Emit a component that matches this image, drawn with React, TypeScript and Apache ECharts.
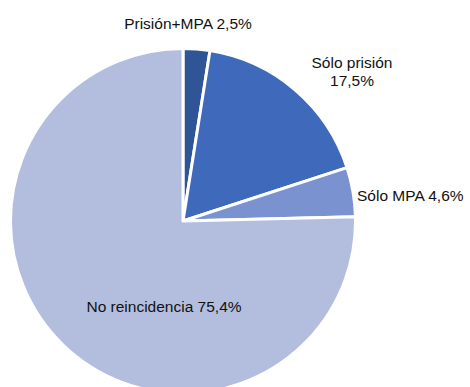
import React, { useEffect, useRef } from "react";
import * as echarts from "echarts";

const categories = ["Prisión+MPA", "Sólo prisión", "Sólo MPA", "No reincidencia"];
const values = [2.5, 17.5, 4.6, 75.4];
const colors = ["#2F5597", "#3F69BA", "#7A92CF", "#B3BEDF"];

const labelPos: Record<number, { x: number; y: number; align: string }> = {
  0: { x: 188, y: 23, align: "center" },
  1: { x: 352, y: 71, align: "center" },
  2: { x: 357, y: 195, align: "left" },
  3: { x: 164, y: 306, align: "center" },
};

export default function App() {
  const ref = useRef<HTMLDivElement>(null);
  useEffect(() => {
    if (!ref.current) return;
    const chart = echarts.init(ref.current, null, { renderer: "svg" });
    chart.setOption({
      animation: false,
      backgroundColor: "#ffffff",
      series: [
        {
          type: "pie",
          center: [183, 221],
          radius: 172.5,
          startAngle: 90,
          clockwise: true,
          avoidLabelOverlap: false,
          data: categories.map((c, i) => ({
            name: c,
            value: values[i],
            itemStyle: { color: colors[i] },
          })),
          itemStyle: { borderColor: "#ffffff", borderWidth: 3 },
          label: {
            show: true,
            position: "outside",
            overflow: "none",
            color: "#111111",
            fontFamily: "Liberation Sans, Arial, sans-serif",
            fontSize: 15.5,
            lineHeight: 18,
            formatter: (p: any) => {
              const v = String(p.value).replace(".", ",") + "%";
              return p.dataIndex === 1 ? `${p.name}\n${v}` : `${p.name} ${v}`;
            },
          },
          labelLine: { show: false },
          labelLayout: (params: any) => {
            const pos = labelPos[params.dataIndex];
            return {
              x: pos.x,
              y: pos.y,
              align: pos.align,
              verticalAlign: "middle",
              hideOverlap: false,
            };
          },
        },
      ],
    });
    return () => chart.dispose();
  }, []);
  return (
    <div
      ref={ref}
      style={{ position: "fixed", left: 0, top: 0, width: 470, height: 387 }}
    />
  );
}
